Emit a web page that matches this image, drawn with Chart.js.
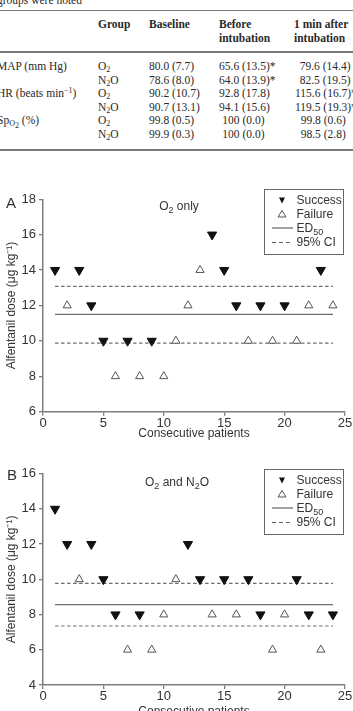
<!DOCTYPE html>
<html>
<head>
<meta charset="utf-8">
<script src="https://cdn.jsdelivr.net/npm/chart.js@4.4.1/dist/chart.umd.min.js"></script>
<style>
    body { margin: 0; width: 353px; height: 711px; overflow: hidden; position: relative; background: #fff; color: #333; font-family: "Liberation Sans", Arial, sans-serif; }
    .tbl { position: absolute; left: 0; top: 0; width: 353px; height: 160px; font-family: "Liberation Serif", "Times New Roman", serif; font-size: 11.5px; color: #2a2a2a; }
    .tbl span { position: absolute; white-space: nowrap; line-height: 1; }
    .tbl b { font-weight: bold; }
    .tbl sub { font-size: 8px; vertical-align: -2px; line-height: 0; }
    .tbl sup { font-size: 8px; vertical-align: 4px; line-height: 0; }
    .rule { position: absolute; left: 0; width: 353px; height: 1.5px; background: #7a7a7a; }
    canvas { position: absolute; left: 0; }
    .panel { position: absolute; font-size: 15px; color: #333; line-height: 1; }
    .ctitle { position: absolute; font-size: 12px; color: #333; white-space: nowrap; transform: translate(-50%, -50%); line-height: 1; }
    .ctitle sub, .legend sub { font-size: 9px; vertical-align: -3px; line-height: 0; }
    .legend { position: absolute; left: 263.5px; width: 80px; height: 66px; border: 1px solid #666; box-sizing: border-box; font-size: 12px; color: #333; }
    .legend div { position: absolute; left: 0; height: 14px; width: 80px; }
    .legend svg { position: absolute; left: 6px; top: 0; }
    .legend span { position: absolute; left: 32px; top: 0; line-height: 14px; white-space: nowrap; }
</style>
</head>
<body>

<div class="tbl" id="tbl"></div>

<canvas id="chartA" width="353" height="285" style="top:160px"></canvas>
<canvas id="chartB" width="353" height="278" style="top:445px"></canvas>

<div class="panel" style="left:6px;top:195px">A</div>
<div class="panel" style="left:7px;top:467px">B</div>
<div class="ctitle" style="left:179px;top:206px">O<sub>2</sub> only</div>
<div class="ctitle" style="left:177px;top:482px">O<sub>2</sub> and N<sub>2</sub>O</div>
<div class="legend" id="legendA" style="top:189px"></div>
<div class="legend" id="legendB" style="top:469px"></div>

<script>
// table text
const tableHeader = ["Group", "Baseline", "Before", "1 min after"];
const rowLabels = ["MAP (mm Hg)", "", "HR (beats min<sup>\u22121</sup>)", "", "Sp<sub>O<sub>2</sub></sub> (%)", ""];
const rowGroups = ["O<sub>2</sub>", "N<sub>2</sub>O", "O<sub>2</sub>", "N<sub>2</sub>O", "O<sub>2</sub>", "N<sub>2</sub>O"];
const baseline = ["80.0 (7.7)", "78.6 (8.0)", "90.2 (10.7)", "90.7 (13.1)", "99.8 (0.5)", "99.9 (0.3)"];
const beforeIntubation = ["65.6 (13.5)*", "64.0 (13.9)*", "92.8 (17.8)", "94.1 (15.6)", "100 (0.0)", "100 (0.0)"];
const afterIntubation = ["79.6 (14.4)", "82.5 (19.5)", "115.6 (16.7)*", "119.5 (19.3)*", "99.8 (0.6)", "98.5 (2.8)"];

// chart A: O2 only
const patientsA = [1, 2, 3, 4, 5, 6, 7, 8, 9, 10, 11, 12, 13, 14, 15, 16, 17, 18, 19, 20, 21, 22, 23, 24];
const doseA = [14, 12, 14, 12, 10, 8, 10, 8, 10, 8, 10, 12, 14, 16, 14, 12, 10, 12, 10, 12, 10, 12, 14, 12];
const outcomeA = ["S", "F", "S", "S", "S", "F", "S", "F", "S", "F", "F", "F", "F", "S", "S", "S", "F", "S", "F", "S", "F", "F", "S", "F"];
const ed50A = 11.5;
const ciA = [9.87, 13.08];

// chart B: O2 and N2O
const patientsB = [1, 2, 3, 4, 5, 6, 7, 8, 9, 10, 11, 12, 13, 14, 15, 16, 17, 18, 19, 20, 21, 22, 23, 24];
const doseB = [14, 12, 10, 12, 10, 8, 6, 8, 6, 8, 10, 12, 10, 8, 10, 8, 10, 8, 6, 8, 10, 8, 6, 8];
const outcomeB = ["S", "S", "F", "S", "S", "S", "F", "S", "F", "F", "F", "S", "S", "F", "S", "F", "S", "S", "F", "F", "S", "S", "F", "S"];
const ed50B = 8.57;
const ciB = [7.35, 9.77];

const xTicks = [0, 5, 10, 15, 20, 25];

function buildTable() {
    const rowY = [61, 74.5, 88, 101.5, 115, 128.5];
    const beforeX = [219, 219, 219, 219, 222.3, 222.3];
    const afterX = [299.7, 299.7, 295, 295, 300.7, 300.7];
    let html = `
        <span style="left:-3px;top:-5px">groups were noted</span>
        <div class="rule" style="top:9.5px"></div>
        <span style="left:98px;top:19px"><b>${tableHeader[0]}</b></span>
        <span style="left:149px;top:19px"><b>${tableHeader[1]}</b></span>
        <span style="left:219px;top:19px"><b>${tableHeader[2]}</b></span>
        <span style="left:219px;top:32.5px"><b>intubation</b></span>
        <span style="left:294px;top:19px"><b>${tableHeader[3]}</b></span>
        <span style="left:294px;top:32.5px"><b>intubation</b></span>
        <div class="rule" style="top:51px"></div>
        <div class="rule" style="top:149px"></div>
    `;
    html += rowLabels.map(function(label, i) {
        return `
            <span style="left:-3px;top:${rowY[i]}px">${label}</span>
            <span style="left:98px;top:${rowY[i]}px">${rowGroups[i]}</span>
            <span style="left:149px;top:${rowY[i]}px">${baseline[i]}</span>
            <span style="left:${beforeX[i]}px;top:${rowY[i]}px">${beforeIntubation[i]}</span>
            <span style="left:${afterX[i]}px;top:${rowY[i]}px">${afterIntubation[i]}</span>
        `;
    }).join('');
    document.getElementById("tbl").innerHTML = html;
}

function buildLegend(id) {
    document.getElementById(id).innerHTML = `
        <div style="top:3px"><svg width="26" height="14"><polygon points="8,10.5 14,10.5 11,4.5" transform="rotate(180 11 7.5)" fill="#111"/></svg><span>Success</span></div>
        <div style="top:17px"><svg width="26" height="14"><polygon points="7,10 15,10 11,3.5" fill="#fff" stroke="#555" stroke-width="1"/></svg><span>Failure</span></div>
        <div style="top:31px"><svg width="26" height="14"><line x1="1" y1="7" x2="22" y2="7" stroke="#666" stroke-width="1.2"/></svg><span>ED<sub>50</sub></span></div>
        <div style="top:45px"><svg width="26" height="14"><line x1="1" y1="7.5" x2="22" y2="7.5" stroke="#666" stroke-width="1.2" stroke-dasharray="4 3"/></svg><span>95% CI</span></div>
    `;
}

function makeChart(canvasId, patients, dose, outcome, ed50, ci, yMin, yMax, padTop, xAxisHeight) {
    const success = [], failure = [];
    patients.forEach(function(p, i) {
        (outcome[i] === "S" ? success : failure).push({ x: p, y: dose[i] });
    });
    const first = patients[0], last = patients[patients.length - 1];
    const axisColor = "#7d7d7d";
    return new Chart(document.getElementById(canvasId).getContext("2d"), {
        type: "scatter",
        data: {
            datasets: [
                {
                    label: "Success",
                    data: success,
                    pointStyle: "triangle",
                    rotation: 180,
                    pointRadius: 5.3,
                    backgroundColor: "#111",
                    borderColor: "#111",
                    borderWidth: 1,
                    order: 0
                },
                {
                    label: "Failure",
                    data: failure,
                    pointStyle: "triangle",
                    pointRadius: 4.7,
                    backgroundColor: "#fff",
                    borderColor: "#555",
                    borderWidth: 1,
                    order: 0
                },
                {
                    label: "ED50",
                    type: "line",
                    data: [{ x: first, y: ed50 }, { x: last, y: ed50 }],
                    borderColor: "#6e6e6e",
                    borderWidth: 1.2,
                    pointRadius: 0,
                    order: 1
                },
                {
                    label: "95% CI upper",
                    type: "line",
                    data: [{ x: first, y: ci[1] }, { x: last, y: ci[1] }],
                    borderColor: "#6e6e6e",
                    borderWidth: 1.2,
                    borderDash: [3.5, 2.5],
                    pointRadius: 0,
                    order: 1
                },
                {
                    label: "95% CI lower",
                    type: "line",
                    data: [{ x: first, y: ci[0] }, { x: last, y: ci[0] }],
                    borderColor: "#6e6e6e",
                    borderWidth: 1.2,
                    borderDash: [3.5, 2.5],
                    pointRadius: 0,
                    order: 1
                }
            ]
        },
        options: {
            responsive: false,
            animation: false,
            clip: false,
            layout: { autoPadding: false, padding: { top: padTop, right: 8, left: 0, bottom: 0 } },
            plugins: { legend: { display: false }, tooltip: { enabled: false } },
            scales: {
                x: {
                    type: "linear",
                    min: xTicks[0],
                    max: xTicks[xTicks.length - 1],
                    afterBuildTicks: function(scale) { scale.ticks = xTicks.map(v => ({ value: v })); },
                    afterFit: function(scale) { scale.height = xAxisHeight; },
                    grid: { display: true, drawOnChartArea: false, drawTicks: true, tickLength: 4, color: axisColor, lineWidth: 1.3 },
                    border: { display: true, color: axisColor, width: 1.5 },
                    ticks: { color: "#333", font: { family: "Liberation Sans", size: 13 }, padding: 0, maxRotation: 0 },
                    title: { display: true, text: "Consecutive patients", color: "#333", font: { family: "Liberation Sans", size: 12 }, padding: { top: 2, bottom: 4 } }
                },
                y: {
                    type: "linear",
                    min: yMin,
                    max: yMax,
                    afterFit: function(scale) { scale.width = 43; },
                    ticks: { stepSize: 2, color: "#333", font: { family: "Liberation Sans", size: 13 }, padding: 3 },
                    grid: { display: true, drawOnChartArea: false, drawTicks: true, tickLength: 4, color: axisColor, lineWidth: 1.3 },
                    border: { display: true, color: axisColor, width: 1.5 },
                    title: { display: true, text: "Alfentanil dose (\u03bcg kg\u207b\u00b9)", color: "#333", font: { family: "Liberation Sans", size: 12 }, padding: { top: 4, bottom: 0 } }
                }
            }
        }
    });
}

buildTable();
buildLegend("legendA");
buildLegend("legendB");
makeChart("chartA", patientsA, doseA, outcomeA, ed50A, ciA, 6, 18, 39.3, 33.3);
makeChart("chartB", patientsB, doseB, outcomeB, ed50B, ciB, 4, 16, 28.7, 38);
</script>
</body>
</html>
